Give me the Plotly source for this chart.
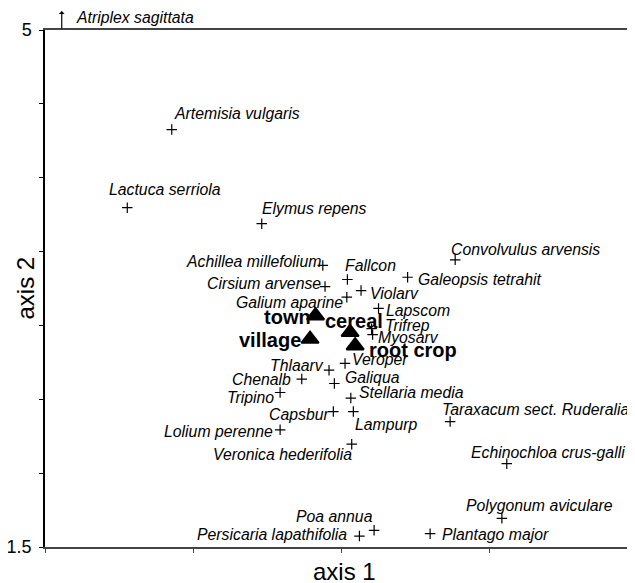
import plotly.graph_objects as go

# ---------------- data ----------------
species = [
    "Artemisia vulgaris", "Lactuca serriola", "Elymus repens", "Achillea millefolium",
    "Fallcon", "Galeopsis tetrahit", "Convolvulus arvensis", "Cirsium arvense",
    "Galium aparine", "Violarv", "Lapscom", "Trifrep", "Myosarv", "Thlaarv",
    "Veroper", "Chenalb", "Galiqua", "Tripino", "Stellaria media", "Capsbur",
    "Lampurp", "Lolium perenne", "Veronica hederifolia", "Taraxacum sect. Ruderalia",
    "Echinochloa crus-galli", "Polygonum aviculare", "Plantago major", "Poa annua",
    "Persicaria lapathifolia",
]
species_x = [
    0.855, 0.555, 1.462, 1.874,
    2.040, 2.446, 2.767, 1.889,
    2.036, 2.132, 2.250, 2.203, 2.210, 1.916,
    2.024, 1.732, 1.952, 1.586, 2.063, 1.945,
    2.080, 1.586, 2.069, 2.733,
    3.115, 3.082, 2.598, 2.220,
    2.121,
]
species_y = [
    4.326, 3.797, 3.689, 3.406,
    3.311, 3.326, 3.444, 3.263,
    3.191, 3.236, 3.115, 2.978, 2.938, 2.697,
    2.743, 2.637, 2.607, 2.546, 2.508, 2.417,
    2.417, 2.293, 2.196, 2.349,
    2.064, 1.694, 1.590, 1.613,
    1.574,
]

sites = ["town", "village", "cereal", "root crop"]
site_x = [1.825, 1.788, 2.058, 2.092]
site_y = [3.066, 2.908, 2.953, 2.863]

# species whose score lies above the plotted range (shown with an arrow)
offchart_species = ["Atriplex sagittata"]
offchart_x = [0.113]

y_tick_vals = [1.5, 2.0, 2.5, 3.0, 3.5, 4.0, 4.5, 5.0]
y_tick_text = ["1.5", "", "", "", "", "", "", "5"]
x_tick_vals = [0, 1, 2, 3]

x_title = "axis 1"
y_title = "axis 2"

# ---------------- label placement (style) ----------------
# name: (xanchor, x pixel shift, y pixel shift)
label_pos = {
    "Artemisia vulgaris": ("left", 3, 16),
    "Lactuca serriola": ("left", -17, 18),
    "Elymus repens": ("left", 1, 15),
    "Achillea millefolium": ("right", -3, 4),
    "Fallcon": ("left", -1, 14),
    "Galeopsis tetrahit": ("left", 11, -2),
    "Convolvulus arvensis": ("left", -3, 10),
    "Cirsium arvense": ("right", -5, 3),
    "Galium aparine": ("right", -5, -5),
    "Violarv": ("left", 10, -3),
    "Lapscom": ("left", 8, -2),
    "Trifrep": ("left", 14, 3),
    "Myosarv": ("left", 6, -3),
    "Thlaarv": ("right", -6, 5),
    "Veroper": ("left", 8, 4),
    "Chenalb": ("right", -12, 0),
    "Galiqua": ("left", 12, 6),
    "Tripino": ("right", -7, -5),
    "Stellaria media": ("left", 9, 6),
    "Capsbur": ("right", -5, -3),
    "Lampurp": ("left", 3, -13),
    "Lolium perenne": ("right", -8, -2),
    "Veronica hederifolia": ("right", -1, -10),
    "Taraxacum sect. Ruderalia": ("left", -7, 12),
    "Echinochloa crus-galli": ("left", -35, 11),
    "Polygonum aviculare": ("left", -35, 13),
    "Plantago major": ("left", 13, -1),
    "Poa annua": ("right", -2, 14),
    "Persicaria lapathifolia": ("right", -13, 2),
}
site_label_pos = {
    "town": ("right", -6, -1),
    "village": ("right", -10, -1),
    "cereal": ("right", 32, 11),
    "root crop": ("left", 15, -4),
}
PAD = 3  # annotation text-box inner padding to compensate


def shift(anchor, dx):
    return dx - PAD if anchor == "left" else dx + PAD


FONT = "Liberation Sans, Arial, Helvetica, sans-serif"

fig = go.Figure()

fig.add_trace(go.Scatter(
    x=species_x, y=species_y, mode="markers",
    marker=dict(symbol="cross-thin", size=7.5, color="black",
                line=dict(color="black", width=1.2)),
    hovertext=species, hoverinfo="text", showlegend=False, cliponaxis=False,
))
fig.add_trace(go.Scatter(
    x=site_x, y=site_y, mode="markers",
    marker=dict(symbol="triangle-up", size=15, color="black",
                line=dict(color="black", width=2)),
    hovertext=sites, hoverinfo="text", showlegend=False, cliponaxis=False,
))

annotations = []
for name, x, y in zip(species, species_x, species_y):
    anc, dx, dy = label_pos[name]
    annotations.append(dict(
        x=x, y=y, xref="x", yref="y", text=name, showarrow=False,
        xanchor=anc, yanchor="middle", xshift=shift(anc, dx), yshift=dy,
        font=dict(family=FONT, size=15.8, color="black", style="italic"),
    ))
for name, x, y in zip(sites, site_x, site_y):
    anc, dx, dy = site_label_pos[name]
    annotations.append(dict(
        x=x, y=y, xref="x", yref="y", text="<b>" + name + "</b>", showarrow=False,
        xanchor=anc, yanchor="middle", xshift=shift(anc, dx), yshift=dy,
        font=dict(family=FONT, size=20, color="black"),
    ))

y_top = max(y_tick_vals)
for name, x in zip(offchart_species, offchart_x):
    # arrow pointing upward out of the plot
    annotations.append(dict(
        x=x, y=y_top, xref="x", yref="y", text="", showarrow=True,
        ax=0, ay=19, yshift=19,
        arrowhead=1, arrowsize=0.8, arrowwidth=1.2, arrowcolor="black",
        standoff=0, startstandoff=0,
    ))
    annotations.append(dict(
        x=x, y=y_top, xref="x", yref="y", text=name, showarrow=False,
        xanchor="left", yanchor="middle", xshift=shift("left", 15), yshift=13,
        font=dict(family=FONT, size=15.8, color="black", style="italic"),
    ))

# axis titles
annotations.append(dict(
    x=0.5, y=0, xref="paper", yref="paper", text=x_title, showarrow=False,
    xanchor="center", yanchor="middle", yshift=-24, xshift=4,
    font=dict(family=FONT, size=24, color="black"),
))
annotations.append(dict(
    x=0, y=0.5, xref="paper", yref="paper", text=y_title, showarrow=False,
    xanchor="center", yanchor="middle", xshift=-20, textangle=-90,
    font=dict(family=FONT, size=24, color="black"),
))

# the page body keeps the browser's default 8px margin, so the figure is
# made 8px smaller on each axis and its margins shifted accordingly
fig.update_layout(
    template="none",
    width=627, height=575,
    margin=dict(l=37, r=0, t=22, b=36, autoexpand=False),
    paper_bgcolor="white", plot_bgcolor="white",
    font=dict(family=FONT, color="black"),
    annotations=annotations,
    showlegend=False,
    xaxis=dict(
        range=[0, 3.98], showgrid=False, zeroline=False, automargin=False,
        showline=True, linecolor="#444", linewidth=2, mirror=True,
        ticks="outside", ticklen=4, tickcolor="#444", tickwidth=1,
        tickvals=x_tick_vals, showticklabels=False,
    ),
    yaxis=dict(
        range=[1.5, 5.0], showgrid=False, zeroline=False, automargin=False,
        showline=True, linecolor="black", linewidth=1.5, mirror=False,
        ticks="outside", ticklen=4, tickcolor="black", tickwidth=1,
        tickvals=y_tick_vals, ticktext=y_tick_text,
        tickfont=dict(family=FONT, size=18, color="black"),
        ticklabelstandoff=4,
    ),
)

fig.write_html("out.html")
